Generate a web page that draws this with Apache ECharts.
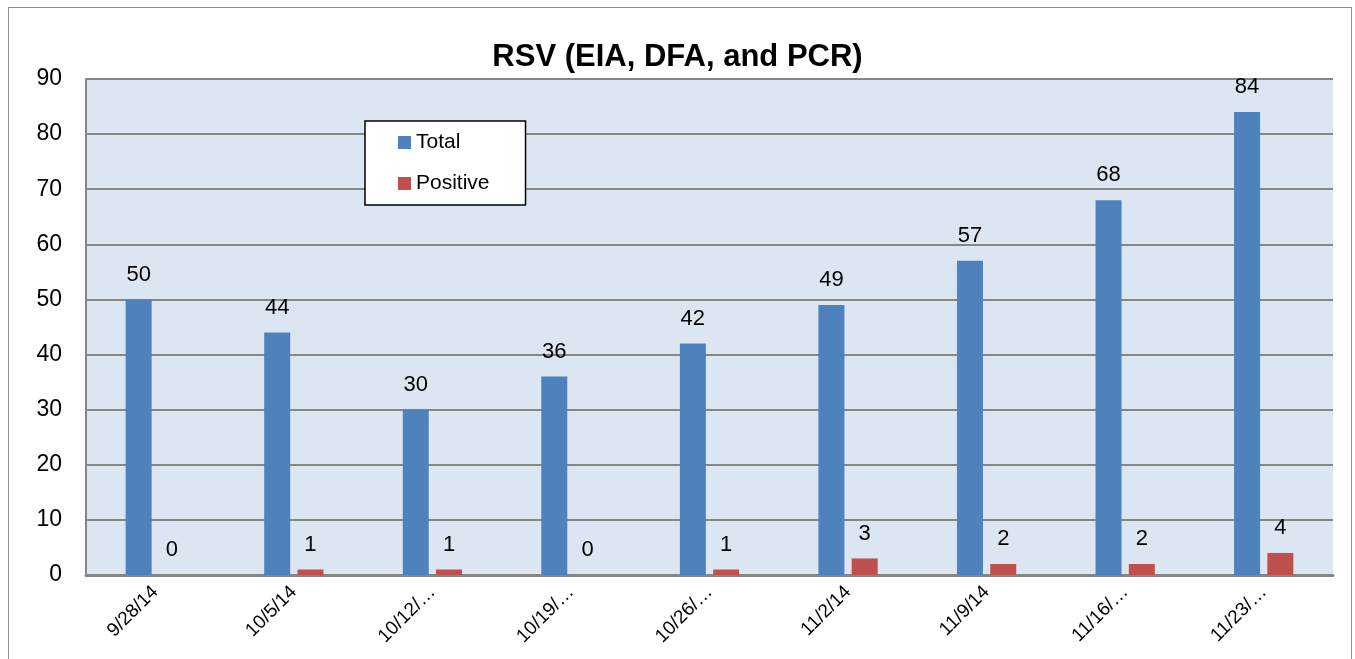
<!DOCTYPE html>
<html>
<head>
<meta charset="utf-8">
<script src="https://cdn.jsdelivr.net/npm/echarts@6/dist/echarts.min.js"></script>
<style>
  html, body { margin: 0; padding: 0; background: #fff; }
  #frame { position: absolute; left: 8px; top: 7px; width: 1342px; height: 660px; border: 1px solid #8c8c8c; border-bottom: none; }
  #chart { position: absolute; left: 0; top: 0; width: 1355px; height: 659px; }
</style>
</head>
<body>
<div id="frame"></div>
<div id="chart"></div>
<script>
const weeks = ['9/28/14', '10/5/14', '10/12/14', '10/19/14', '10/26/14', '11/2/14', '11/9/14', '11/16/14', '11/23/14'];
const total = [50, 44, 30, 36, 42, 49, 57, 68, 84];
const positive = [0, 1, 1, 0, 1, 3, 2, 2, 4];
const yTicks = [0, 10, 20, 30, 40, 50, 60, 70, 80, 90];

const font = 'Liberation Sans, Arial, sans-serif';

const chart = echarts.init(document.getElementById('chart'));

const barLabel = {
  show: true,
  position: 'top',
  distance: 14,
  color: '#000',
  fontSize: 22,
  fontFamily: font
};

chart.setOption({
  animation: false,
  title: {
    text: 'RSV (EIA, DFA, and PCR)',
    left: 'center',
    top: 37,
    textStyle: { fontSize: 31, fontWeight: 'bold', color: '#000', fontFamily: font }
  },
  legend: {
    orient: 'vertical',
    left: 365,
    top: 121,
    data: ['Total', 'Positive'],
    backgroundColor: '#fff',
    borderColor: '#000',
    borderWidth: 1.5,
    borderRadius: 0,
    padding: [11, 36, 11, 33],
    itemGap: 20,
    itemWidth: 13,
    itemHeight: 13,
    icon: 'rect',
    itemStyle: { borderWidth: 0 },
    textStyle: { fontSize: 21, color: '#000', fontFamily: font }
  },
  grid: { left: 86, right: 22, top: 79, bottom: 84, backgroundColor: '#dce6f2', show: true, borderWidth: 0 },
  xAxis: {
    type: 'category',
    data: weeks,
    axisTick: { show: false },
    axisLine: { lineStyle: { color: '#868686', width: 3 } },
    axisLabel: {
      rotate: 45,
      interval: 0,
      margin: 14,
      fontSize: 19,
      color: '#000',
      fontFamily: font,
      formatter: s => s.length > 7 ? s.slice(0, 6) + '…' : s
    }
  },
  yAxis: {
    type: 'value',
    min: yTicks[0],
    max: yTicks[yTicks.length - 1],
    interval: 10,
    axisLine: { show: true, lineStyle: { color: '#868686', width: 2 } },
    axisTick: { show: false },
    splitLine: { lineStyle: { color: '#868686', width: 2 } },
    axisLabel: { fontSize: 23, color: '#000', fontFamily: font, margin: 24 }
  },
  series: [
    {
      name: 'Total',
      type: 'bar',
      data: total,
      barWidth: 26,
      barGap: '28%',
      itemStyle: { color: '#4f81bd' },
      label: barLabel
    },
    {
      name: 'Positive',
      type: 'bar',
      data: positive,
      barWidth: 26,
      itemStyle: { color: '#c0504d' },
      label: barLabel
    }
  ]
});
</script>
</body>
</html>
